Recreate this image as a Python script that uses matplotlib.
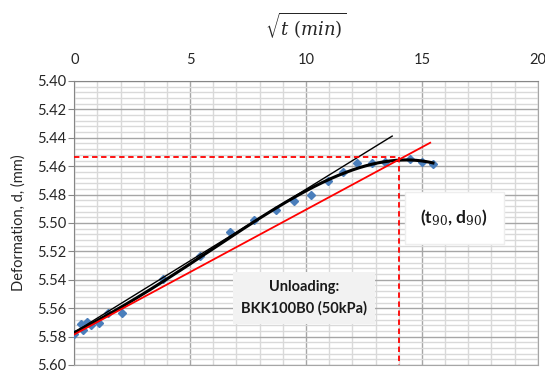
import numpy as np
import matplotlib
matplotlib.use("Agg")
import matplotlib.pyplot as plt
from matplotlib.ticker import MultipleLocator
from numpy.polynomial import Polynomial

plt.rcParams["font.family"] = ["Lato", "DejaVu Sans"]
plt.rcParams["mathtext.fontset"] = "dejavuserif"

# Square root of time (min^0.5) and measured deformation (mm)
sqrt_t = [0.0, 0.27, 0.37, 0.55, 0.73, 1.05, 1.45, 2.05, 3.84, 5.43, 6.70,
          7.75, 8.69, 9.49, 10.23, 10.96, 11.58, 12.22, 12.85, 13.42, 14.47,
          15.0, 15.48]
deform = [5.5785, 5.5712, 5.5756, 5.5697, 5.5720, 5.5702, 5.5636, 5.5636,
          5.5397, 5.5232, 5.5066, 5.4981, 5.4911, 5.4847, 5.4800, 5.4701,
          5.4642, 5.4576, 5.4581, 5.4569, 5.4546, 5.4572, 5.4584]

# Initial tangent and the 1.15x-abscissa line (Taylor construction)
tangent_x = [0.0, 13.72]
tangent_y = [5.5770, 5.4388]
taylor_x = [0.0, 15.36]
taylor_y = [5.5785, 5.4435]

# t90 / d90 point
t90 = 14.0
d90 = 5.4535

x_ticks = [0, 5, 10, 15, 20]
y_ticks = [5.40, 5.42, 5.44, 5.46, 5.48, 5.50, 5.52, 5.54, 5.56, 5.58, 5.60]

fig = plt.figure(figsize=(5.45, 3.76), dpi=100)
ax = fig.add_axes([0.1363, 0.0293, 0.8503, 0.7553])

ax.set_xlim(0, 20)
ax.set_ylim(5.60, 5.40)

# grid
ax.xaxis.set_major_locator(MultipleLocator(5))
ax.xaxis.set_minor_locator(MultipleLocator(1))
ax.yaxis.set_major_locator(MultipleLocator(0.02))
ax.yaxis.set_minor_locator(MultipleLocator(0.004))
ax.grid(which="major", color="#a6a6a6", lw=1.0)
ax.grid(which="minor", color="#d9d9d9", lw=1.0)
ax.set_axisbelow(True)

ax.xaxis.tick_top()
ax.xaxis.set_label_position("top")
ax.set_xticks(x_ticks)
ax.set_yticks(y_ticks)
ax.set_yticklabels([f"{v:.2f}" for v in y_ticks])
ax.tick_params(which="minor", length=0)
ax.tick_params(which="major", length=4, color="#868686", labelsize=10.5,
               labelcolor="#262626", pad=2)
ax.tick_params(axis="x", which="major", length=0, pad=10)

for side in ["left", "top"]:
    ax.spines[side].set_color("#868686")
for side in ["right", "bottom"]:
    ax.spines[side].set_color("#a6a6a6")

ax.set_xlabel(r"$\sqrt{t\ (min)}$", fontsize=13, labelpad=12, color="#262626")
ax.set_ylabel("Deformation, d, (mm)", fontsize=10.5, color="#262626",
              labelpad=8)

# measured points
ax.plot(sqrt_t, deform, linestyle="none", marker="D", markersize=4,
        color="#4a7ebb", zorder=3)

# polynomial trendline through the measurements
trend = Polynomial.fit(sqrt_t, deform, 4)
xs = np.linspace(min(sqrt_t), max(sqrt_t), 300)
ax.plot(xs, trend(xs), color="black", lw=2.2, zorder=4)

# construction lines
ax.plot(tangent_x, tangent_y, color="black", lw=1.0, zorder=5)
ax.plot(taylor_x, taylor_y, color="#ff0000", lw=1.3, zorder=5)
ax.plot([0, t90], [d90, d90], color="#ff0000", lw=1.3, ls=(0, (3, 2)), zorder=5)
ax.plot([t90, t90], [d90, 5.60], color="#ff0000", lw=1.3, ls=(0, (3, 2)),
        zorder=5, clip_on=False)

ax.text(16.4, 5.4965, r"(t$_{90}$, d$_{90}$)", fontsize=12.5, ha="center",
        va="center", fontweight="bold", color="#1a1a1a",
        bbox=dict(boxstyle="square,pad=0.9", fc="white", ec="#eeeeee", lw=1),
        zorder=6)
ax.text(9.9, 5.5527, "Unloading:\nBKK100B0 (50kPa)", fontsize=10.5,
        ha="center", va="center", fontweight="bold",
        color="#1a1a1a", linespacing=1.6,
        bbox=dict(boxstyle="square,pad=0.55", fc="#f2f2f2", ec="none"),
        zorder=6)

fig.savefig("out.png", dpi=100)
